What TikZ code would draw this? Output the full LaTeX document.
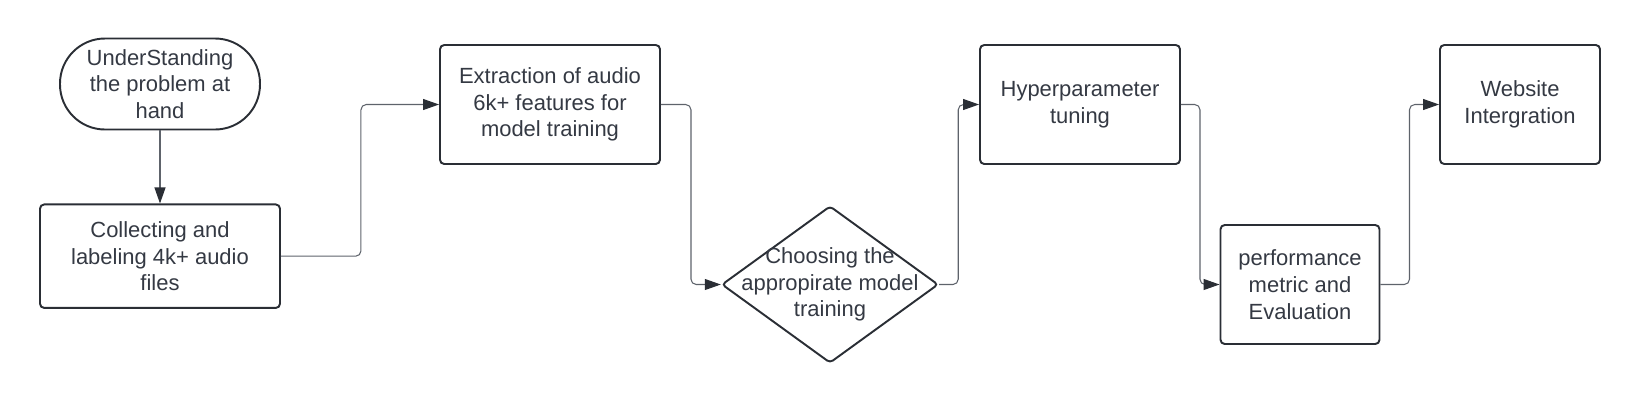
\documentclass[tikz,border=0pt]{standalone}
\usepackage{fontspec}
\setmainfont{Liberation Sans}
\usetikzlibrary{arrows.meta, positioning, shapes.geometric}
\definecolor{ink}{HTML}{2A2E35}
\definecolor{txt}{HTML}{343943}
\definecolor{wire}{HTML}{5E636B}

\begin{document}
\begin{tikzpicture}[
  font=\fontsize{12.5}{15.2}\selectfont,
  box/.style={draw=ink, line width=1.1pt, rounded corners=2.4pt, text=txt, align=center,
              inner sep=0pt, minimum height=2.38cm},
  term/.style={box, rounded corners=0.9cm, minimum width=4cm, minimum height=1.82cm},
  dec/.style={draw=ink, line width=1.1pt, diamond, rounded corners=2pt, inner sep=0pt,
              minimum width=4.33cm, minimum height=3.14cm},
  lbl/.style={text=txt, align=center, inner sep=0pt},
  ar/.style={-{Triangle[length=3.2mm, width=2.2mm, color=ink]}, draw=wire, line width=0.6pt,
             rounded corners=3pt}]

\useasboundingbox (0,0) rectangle (32.8,-8.1);

\node[term] (und) at (3.2,-1.68) {UnderStanding\\the problem at\\hand};
\node[box, minimum width=4.8cm, minimum height=2.07cm, below=1.46cm of und] (coll)
  {Collecting and\\labeling 4k+ audio\\files};

\node[box, minimum width=4.4cm] (feat) at (11.0,-2.09) {Extraction of audio\\6k+ features for\\model training};
\node[dec] (pick) at (16.6,-5.69) {};
\node[lbl] (picktxt) at (pick.center) {Choosing the\\appropirate model\\training};

\node[box, minimum width=4cm] (tune) at (21.6,-2.09) {Hyperparameter\\tuning};
\node[box, minimum width=3.18cm] (eval) at (26.0,-5.69) {performance\\metric and\\Evaluation};
\node[box, minimum width=3.2cm] (web) at (30.4,-2.09) {Website\\Intergration};

\draw[ar] (und) -- (coll);
\draw[ar] (coll.east) -- ++(1.6,0) |- (feat.west);
\draw[ar] (feat.east) -- ++(0.6,0) |- (pick.west);
\draw[ar] (pick.east) -- ++(0.38,0) |- (tune.west);
\draw[ar] (tune.east) -- ++(0.38,0) |- (eval.west);
\draw[ar] (eval.east) -- ++(0.58,0) |- (web.west);
\end{tikzpicture}
\end{document}
